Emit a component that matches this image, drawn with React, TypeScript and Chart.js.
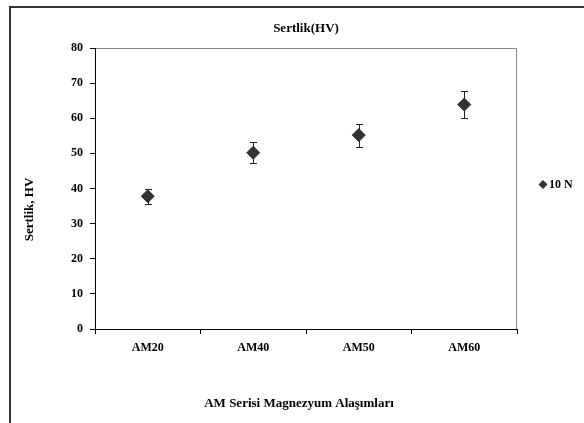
import React, { useEffect, useRef } from 'react';
import { Chart, registerables } from 'chart.js';

Chart.register(...registerables);

// ---- data ----
const categories = ['AM20', 'AM40', 'AM50', 'AM60'];
const hardness = [37.8, 50.2, 55.2, 63.9];
const hardnessErr = [2.2, 2.9, 3.3, 3.8];
const seriesLabel = '10 N';
const yMin = 0;
const yMax = 80;
const yStep = 10;
const chartTitle = 'Sertlik(HV)';
const xTitle = 'AM Serisi Magnezyum Alaşımları';
const yTitle = 'Sertlik, HV';

const FONT = '"Liberation Serif", "Times New Roman", serif';
const MARK = '#333333';

const decorPlugin = {
  id: 'decor',
  beforeDraw(chart: any) {
    const ctx = chart.ctx;
    const { left, right, top, bottom } = chart.chartArea;
    ctx.save();
    // outer frame (left + top)
    ctx.strokeStyle = '#333';
    ctx.lineWidth = 2;
    ctx.beginPath();
    ctx.moveTo(10, chart.height);
    ctx.lineTo(10, 7);
    ctx.lineTo(chart.width, 7);
    ctx.stroke();
    // plot area top & right (gray)
    ctx.strokeStyle = '#888';
    ctx.lineWidth = 1;
    ctx.beginPath();
    ctx.moveTo(left, Math.round(top) + 0.5);
    ctx.lineTo(Math.round(right) - 0.5, Math.round(top) + 0.5);
    ctx.lineTo(Math.round(right) - 0.5, bottom);
    ctx.stroke();
    // titles
    ctx.fillStyle = '#000';
    ctx.font = `bold 13px ${FONT}`;
    ctx.textAlign = 'center';
    ctx.textBaseline = 'middle';
    const cx = (left + right) / 2;
    ctx.fillText(chartTitle, cx, top - 19);
    ctx.fillText(xTitle, cx - 7, bottom + 75);
    ctx.save();
    ctx.translate(left - 65, (top + bottom) / 2 + 21);
    ctx.rotate(-Math.PI / 2);
    ctx.fillText(yTitle, 0, 0);
    ctx.restore();
    // legend
    ctx.font = `bold 12px ${FONT}`;
    const ly = (top + bottom) / 2 - 4;
    const lx = right + 26;
    const r = 4.5;
    ctx.fillStyle = MARK;
    ctx.beginPath();
    ctx.moveTo(lx, ly - r);
    ctx.lineTo(lx + r, ly);
    ctx.lineTo(lx, ly + r);
    ctx.lineTo(lx - r, ly);
    ctx.closePath();
    ctx.fill();
    ctx.fillStyle = '#000';
    ctx.textAlign = 'left';
    ctx.fillText(chart.data.datasets[0].label, lx + 6, ly);
    ctx.restore();
  },
  beforeDatasetsDraw(chart: any) {
    const ctx = chart.ctx;
    const meta = chart.getDatasetMeta(0);
    const ys = chart.scales.y;
    const errs: number[] = chart.data.datasets[0].errors || [];
    ctx.save();
    ctx.strokeStyle = '#222';
    ctx.lineWidth = 1;
    meta.data.forEach((pt: any, i: number) => {
      const v = chart.data.datasets[0].data[i];
      const e = errs[i];
      const x = Math.round(pt.x) + 0.5;
      const yTop = Math.round(ys.getPixelForValue(v + e)) + 0.5;
      const yBot = Math.round(ys.getPixelForValue(v - e)) + 0.5;
      ctx.beginPath();
      ctx.moveTo(x, yTop);
      ctx.lineTo(x, yBot);
      ctx.moveTo(x - 3.5, yTop);
      ctx.lineTo(x + 3.5, yTop);
      ctx.moveTo(x - 3.5, yBot);
      ctx.lineTo(x + 3.5, yBot);
      ctx.stroke();
    });
    ctx.restore();
  },
};

export default function App() {
  const ref = useRef<HTMLCanvasElement>(null);

  useEffect(() => {
    document.body.style.margin = '0';
    const canvas = ref.current;
    if (!canvas) return;
    const chart = new Chart(canvas, {
      type: 'line',
      data: {
        labels: categories,
        datasets: [
          {
            label: seriesLabel,
            data: hardness,
            errors: hardnessErr,
            showLine: false,
            pointStyle: 'rectRot',
            pointRadius: 6.5,
            pointBorderWidth: 1,
            backgroundColor: MARK,
            borderColor: MARK,
          } as any,
        ],
      },
      options: {
        responsive: false,
        animation: false,
        devicePixelRatio: 1,
        layout: { padding: { left: 10, top: 48, right: 67, bottom: 0 } },
        plugins: {
          legend: { display: false },
          title: { display: false },
          tooltip: { enabled: false },
        },
        scales: {
          x: {
            type: 'category',
            offset: true,
            grid: {
              offset: true,
              drawOnChartArea: false,
              drawTicks: true,
              tickLength: 5,
              color: '#000',
            },
            border: { color: '#000', width: 1 },
            ticks: {
              color: '#000',
              padding: 7,
              font: { family: FONT, size: 12, weight: 'bold' },
              maxRotation: 0,
            },
            afterFit(scale: any) {
              scale.height = 94;
            },
          },
          y: {
            min: yMin,
            max: yMax,
            grid: {
              drawOnChartArea: false,
              drawTicks: true,
              tickLength: 5,
              color: '#000',
            },
            border: { color: '#000', width: 1 },
            ticks: {
              stepSize: yStep,
              color: '#000',
              padding: 7,
              font: { family: FONT, size: 12, weight: 'bold' },
            },
            afterFit(scale: any) {
              scale.width = 85;
            },
          },
        },
      } as any,
      plugins: [decorPlugin],
    });
    return () => chart.destroy();
  }, []);

  return (
    <canvas
      ref={ref}
      width={584}
      height={423}
      style={{ display: 'block', width: 584, height: 423 }}
    />
  );
}
